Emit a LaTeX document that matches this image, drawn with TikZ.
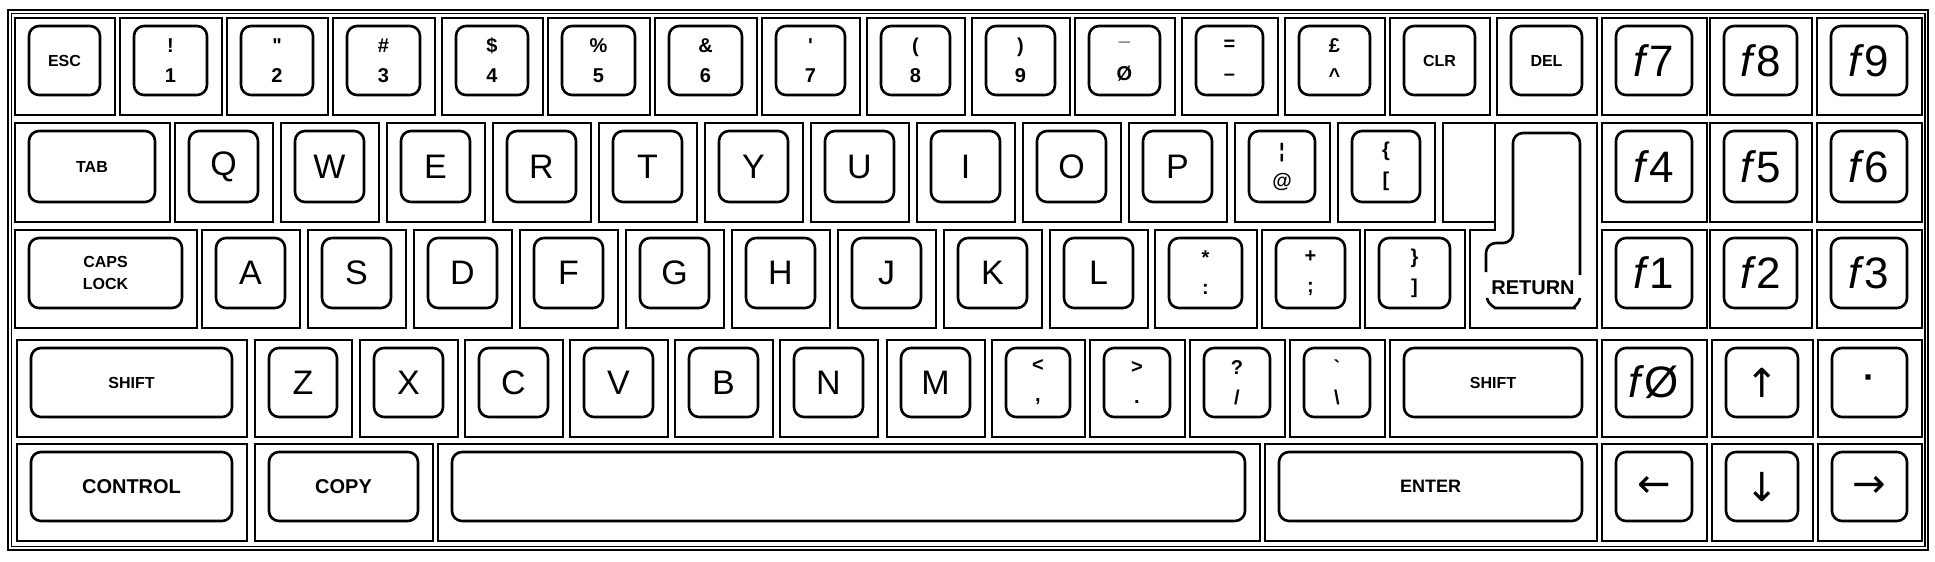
\documentclass[tikz,border=0pt]{standalone}
\usepackage{fontspec}
\setmainfont{Liberation Sans}
\newfontfamily\arrowfont{DejaVu Sans}
\tikzset{
  keyframe/.style={draw, line width=0.9pt},
  keycap/.style={draw, line width=1.3pt, rounded corners=5pt},
  keylabel/.style={inner sep=0pt, align=center},
  lblletter/.style={keylabel, font=\fontsize{17}{17}\selectfont},
  lblfkey/.style={keylabel, font=\fontsize{22}{22}\selectfont},
  lbldual/.style={keylabel, font=\fontsize{10}{15}\selectfont\bfseries},
  lbldot/.style={keylabel, font=\fontsize{18}{18}\selectfont\bfseries},
  lbltiny/.style={keylabel, font=\fontsize{8}{11}\selectfont\bfseries},
  lblsmall/.style={keylabel, font=\fontsize{10}{12}\selectfont\bfseries},
  lblenter/.style={keylabel, font=\fontsize{9}{11}\selectfont\bfseries},
  lblarrow/.style={keylabel, font=\arrowfont\fontsize{20}{20}\selectfont},
}
% name, style, x1, y1, x2, y2, label
\newcommand{\kbkey}[7]{%
  \draw[keyframe] (#3,#4) rectangle (#5,#6);
  \draw[keycap] ({#3+14},{#4+8}) rectangle ({#5-15},{#6-20});
  \node[#2] (#1) at ({(#3+#5)/2-0.5},{(#4+#6)/2-6}) {#7};
}
\begin{document}
\begin{tikzpicture}[x=0.5pt,y=-0.5pt]
\useasboundingbox (0,0) rectangle (1935,562);
% outer frame
\draw[line width=1.2pt] (8,10) rectangle (1928,550);
\draw[line width=0.6pt] (11.5,13.5) rectangle (1925,546.5);
% ---- row 1
\kbkey{esc}{lbltiny}{15}{18}{115}{115}{ESC}
\kbkey{k1}{lbldual}{120}{18}{222}{115}{!\\1}
\kbkey{k2}{lbldual}{227}{18}{328}{115}{\textquotedbl\\2}
\kbkey{k3}{lbldual}{333}{18}{435}{115}{\#\\3}
\kbkey{k4}{lbldual}{442}{18}{543}{115}{\$\\4}
\kbkey{k5}{lbldual}{548}{18}{650}{115}{\%\\5}
\kbkey{k6}{lbldual}{655}{18}{757}{115}{\&\\6}
\kbkey{k7}{lbldual}{762}{18}{860}{115}{\textquotesingle\\7}
\kbkey{k8}{lbldual}{867}{18}{965}{115}{(\\8}
\kbkey{k9}{lbldual}{972}{18}{1070}{115}{)\\9}
\kbkey{k0}{lbldual}{1075}{18}{1175}{115}{\raisebox{5pt}{\_}\\Ø}
\kbkey{kminus}{lbldual}{1182}{18}{1278}{115}{=\\\textendash}
\kbkey{kcaret}{lbldual}{1285}{18}{1385}{115}{£\\\textasciicircum}
\kbkey{clr}{lbltiny}{1390}{18}{1490}{115}{CLR}
\kbkey{del}{lbltiny}{1497}{18}{1597}{115}{DEL}
\kbkey{f7}{lblfkey}{1602}{18}{1707}{115}{\textit{f}7}
\kbkey{f8}{lblfkey}{1710}{18}{1812}{115}{\textit{f}8}
\kbkey{f9}{lblfkey}{1817}{18}{1922}{115}{\textit{f}9}
% ---- row 2
\kbkey{tab}{lbltiny}{15}{123}{170}{222}{TAB}
\kbkey{q}{lblletter}{175}{123}{273}{222}{Q}
\kbkey{w}{lblletter}{281}{123}{379}{222}{W}
\kbkey{e}{lblletter}{387}{123}{485}{222}{E}
\kbkey{r}{lblletter}{493}{123}{591}{222}{R}
\kbkey{t}{lblletter}{599}{123}{697}{222}{T}
\kbkey{y}{lblletter}{705}{123}{803}{222}{Y}
\kbkey{u}{lblletter}{811}{123}{909}{222}{U}
\kbkey{i}{lblletter}{917}{123}{1015}{222}{I}
\kbkey{o}{lblletter}{1023}{123}{1121}{222}{O}
\kbkey{p}{lblletter}{1129}{123}{1227}{222}{P}
\kbkey{at}{lbldual}{1235}{123}{1330}{222}{¦\\@}
\kbkey{lbr}{lbldual}{1338}{123}{1435}{222}{\{\\{[}}
% return key
\draw[keyframe] (1443,123) rectangle (1495,222);
\draw[keyframe] (1495,123) -- (1597,123) -- (1597,328) -- (1470,328) -- (1470,230) -- (1495,230) -- cycle;
\draw[keycap] (1486,272) -- (1486,243) -- (1513,243) -- (1513,133) -- (1580,133) -- (1580,275);
\node[lblsmall] (ret) at (1533,288) {RETURN};
\draw[keycap] (1487,298) to[out=-80,in=180] (1505,308) -- (1564,308) to[out=0,in=-100] (1580,298);
\kbkey{f4}{lblfkey}{1602}{123}{1707}{222}{\textit{f}4}
\kbkey{f5}{lblfkey}{1710}{123}{1812}{222}{\textit{f}5}
\kbkey{f6}{lblfkey}{1817}{123}{1922}{222}{\textit{f}6}
% ---- row 3
\kbkey{caps}{lbltiny}{15}{230}{197}{328}{CAPS\\LOCK}
\kbkey{a}{lblletter}{202}{230}{300}{328}{A}
\kbkey{s}{lblletter}{308}{230}{406}{328}{S}
\kbkey{d}{lblletter}{414}{230}{512}{328}{D}
\kbkey{f}{lblletter}{520}{230}{618}{328}{F}
\kbkey{g}{lblletter}{626}{230}{724}{328}{G}
\kbkey{h}{lblletter}{732}{230}{830}{328}{H}
\kbkey{j}{lblletter}{838}{230}{936}{328}{J}
\kbkey{k}{lblletter}{944}{230}{1042}{328}{K}
\kbkey{l}{lblletter}{1050}{230}{1148}{328}{L}
\kbkey{colon}{lbldual}{1155}{230}{1257}{328}{*\\:}
\kbkey{semi}{lbldual}{1262}{230}{1360}{328}{+\\;}
\kbkey{rbr}{lbldual}{1365}{230}{1465}{328}{\}\\{]}}
\kbkey{f1}{lblfkey}{1602}{230}{1707}{328}{\textit{f}1}
\kbkey{f2}{lblfkey}{1710}{230}{1812}{328}{\textit{f}2}
\kbkey{f3}{lblfkey}{1817}{230}{1922}{328}{\textit{f}3}
% ---- row 4
\kbkey{lshift}{lbltiny}{17}{340}{247}{437}{SHIFT}
\kbkey{z}{lblletter}{255}{340}{352}{437}{Z}
\kbkey{x}{lblletter}{360}{340}{458}{437}{X}
\kbkey{c}{lblletter}{465}{340}{563}{437}{C}
\kbkey{v}{lblletter}{570}{340}{668}{437}{V}
\kbkey{b}{lblletter}{675}{340}{773}{437}{B}
\kbkey{n}{lblletter}{780}{340}{878}{437}{N}
\kbkey{m}{lblletter}{887}{340}{985}{437}{M}
\kbkey{comma}{lbldual}{992}{340}{1085}{437}{<\\,}
\kbkey{period}{lbldual}{1090}{340}{1185}{437}{>\\.}
\kbkey{slash}{lbldual}{1190}{340}{1285}{437}{?\\/}
\kbkey{bslash}{lbldual}{1290}{340}{1385}{437}{\textasciigrave\\\textbackslash}
\kbkey{rshift}{lbltiny}{1390}{340}{1597}{437}{SHIFT}
\kbkey{f0}{lblfkey}{1602}{340}{1707}{437}{\textit{f}Ø}
\kbkey{up}{lblarrow}{1712}{340}{1813}{437}{↑}
\kbkey{dot}{lbldot}{1818}{340}{1922}{437}{·}
% ---- row 5
\kbkey{ctrl}{lblsmall}{17}{444}{247}{541}{CONTROL}
\kbkey{copy}{lblsmall}{255}{444}{433}{541}{COPY}
\draw[keyframe] (438,444) rectangle (1260,541);
\draw[keycap] (452,452) rectangle (1245,521);
\kbkey{enter}{lblenter}{1265}{444}{1597}{541}{ENTER}
\kbkey{left}{lblarrow}{1602}{444}{1707}{541}{←}
\kbkey{down}{lblarrow}{1712}{444}{1813}{541}{↓}
\kbkey{right}{lblarrow}{1818}{444}{1922}{541}{→}
\end{tikzpicture}
\end{document}
